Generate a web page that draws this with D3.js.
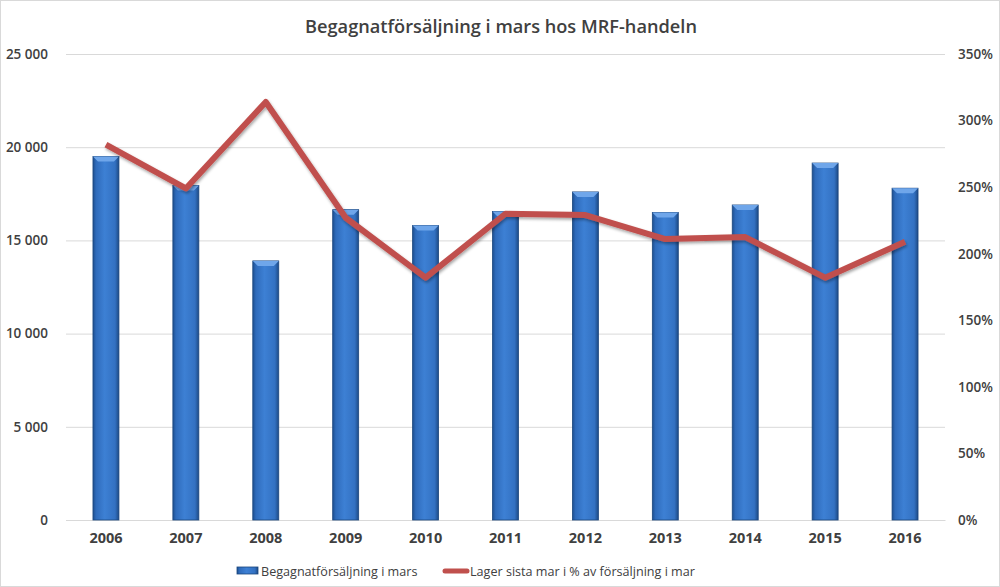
<!DOCTYPE html>
<html>
<head>
<meta charset="utf-8">
<script src="https://cdn.jsdelivr.net/npm/d3@7"></script>
<style>
  body { margin: 0; background: #fff; }
  svg text { font-family: "Open Sans", sans-serif; fill: #404040; }
</style>
</head>
<body>
<svg id="chart" width="1000" height="587"></svg>
<script>
var years = ["2006","2007","2008","2009","2010","2011","2012","2013","2014","2015","2016"];
var sales = [19500, 17950, 13900, 16650, 15800, 16550, 17600, 16500, 16900, 19150, 17800];
var stockPct = [282, 249, 314, 227, 182, 230, 229, 211, 212.5, 182, 209];
var leftTicks = [0, 5000, 10000, 15000, 20000, 25000];
var rightTicks = [0, 50, 100, 150, 200, 250, 300, 350];
var seriesNames = ["Begagnatförsäljning i mars", "Lager sista mar i % av försäljning i mar"];

var margin = {top: 54, right: 55, bottom: 67, left: 66}
  , width = 1000 - margin.left - margin.right
  , height = 587 - margin.top - margin.bottom;

var svg = d3.select("#chart");

// frame
svg.append("rect")
    .attr("x", 0.5).attr("y", 0.5)
    .attr("width", 999).attr("height", 586)
    .attr("fill", "#fff")
    .attr("stroke", "#d9d9d9");

var defs = svg.append("defs");
var grad = defs.append("linearGradient").attr("id", "barGrad")
    .attr("x1", "0%").attr("x2", "100%").attr("y1", "0%").attr("y2", "0%");
grad.append("stop").attr("offset", "0%").attr("stop-color", "#1d4f8f");
grad.append("stop").attr("offset", "12%").attr("stop-color", "#2f6bbb");
grad.append("stop").attr("offset", "45%").attr("stop-color", "#3d80d4");
grad.append("stop").attr("offset", "85%").attr("stop-color", "#3371c2");
grad.append("stop").attr("offset", "100%").attr("stop-color", "#1d4a85");

var filt = defs.append("filter").attr("id", "shadow")
    .attr("x", "-10%").attr("y", "-10%").attr("width", "120%").attr("height", "130%");
filt.append("feDropShadow").attr("dx", 1).attr("dy", 2).attr("stdDeviation", 1.5)
    .attr("flood-color", "#000").attr("flood-opacity", 0.35);

var g = svg.append("g")
    .attr("transform", "translate(" + margin.left + "," + margin.top + ")");

var x = d3.scaleBand().domain(years).range([0, width]).paddingInner(0.675).paddingOuter(0.3375);
var y = d3.scaleLinear().domain([0, 25000]).range([height, 0]);
var y2 = d3.scaleLinear().domain([0, 350]).range([height, 0]);

var fmt = function(d) { return d === 0 ? "0" : d3.format(",")(d).replace(",", " "); };

// gridlines
g.append("g")
    .call(d3.axisLeft(y).tickValues(leftTicks).tickSize(-width).tickFormat(""))
    .call(function(s) {
        s.select(".domain").remove();
        s.selectAll("line").attr("stroke", "#d9d9d9");
    });

// left axis labels
g.append("g")
    .call(d3.axisLeft(y).tickValues(leftTicks).tickSize(0).tickPadding(18).tickFormat(fmt))
    .call(function(s) {
        s.select(".domain").remove();
        s.selectAll("text").attr("font-size", 13.5).attr("font-weight", 600).style("fill", "#404040");
    });

// right axis labels
g.append("g")
    .attr("transform", "translate(" + width + ",0)")
    .call(d3.axisRight(y2).tickValues(rightTicks).tickSize(0).tickPadding(13).tickFormat(function(d){ return d + "%"; }))
    .call(function(s) {
        s.select(".domain").remove();
        s.selectAll("text").attr("font-size", 13.5).attr("font-weight", 600).style("fill", "#404040");
    });

// x axis
g.append("g")
    .attr("transform", "translate(0," + height + ")")
    .call(d3.axisBottom(x).tickSize(0).tickPadding(13))
    .call(function(s) {
        s.select(".domain").attr("stroke", "#d9d9d9");
        s.selectAll("text").attr("font-size", 14.5).attr("font-weight", 700).style("fill", "#404040");
    });

// bars
var bars = g.selectAll(".bar").data(years).enter().append("g").attr("class", "bar");
bars.append("rect")
    .attr("x", function(d) { return x(d); })
    .attr("y", function(d, i) { return y(sales[i]); })
    .attr("width", x.bandwidth())
    .attr("height", function(d, i) { return height - y(sales[i]); })
    .attr("fill", "url(#barGrad)")
    .attr("stroke", "#1b467e")
    .attr("stroke-width", 0.8);
// bevel on top
bars.append("path")
    .attr("d", function(d, i) {
        var x0 = x(d), x1 = x0 + x.bandwidth(), t = y(sales[i]);
        return "M" + x0 + "," + t + "L" + x1 + "," + t + "L" + (x1 - 5) + "," + (t + 5) + "L" + (x0 + 5) + "," + (t + 5) + "Z";
    })
    .attr("fill", "#6fa6ea");

// line
var line = d3.line()
    .x(function(d, i) { return x(years[i]) + x.bandwidth() / 2; })
    .y(function(d) { return y2(d); });

g.append("path")
    .datum(stockPct)
    .attr("d", line)
    .attr("fill", "none")
    .attr("stroke", "#c0504d")
    .attr("stroke-width", 6)
    .attr("stroke-linejoin", "round")
    .attr("filter", "url(#shadow)");

// title
svg.append("text")
    .attr("x", 501).attr("y", 33)
    .attr("text-anchor", "middle")
    .attr("font-size", 18.2).attr("font-weight", 600)
    .text("Begagnatförsäljning i mars hos MRF-handeln");

// legend
var lg = svg.append("g").attr("transform", "translate(0,571)");
lg.append("rect").attr("x", 237).attr("y", -4).attr("width", 21).attr("height", 7)
    .attr("fill", "url(#barGrad)").attr("stroke", "#1b467e").attr("stroke-width", 0.8);
lg.append("text").attr("x", 261).attr("y", 5).attr("font-size", 12.6).text(seriesNames[0]);
lg.append("line").attr("x1", 445).attr("x2", 467).attr("y1", 0).attr("y2", 0)
    .attr("stroke", "#c0504d").attr("stroke-width", 5).attr("stroke-linecap", "round");
lg.append("text").attr("x", 470).attr("y", 5).attr("font-size", 12.6).text(seriesNames[1]);
</script>
</body>
</html>
